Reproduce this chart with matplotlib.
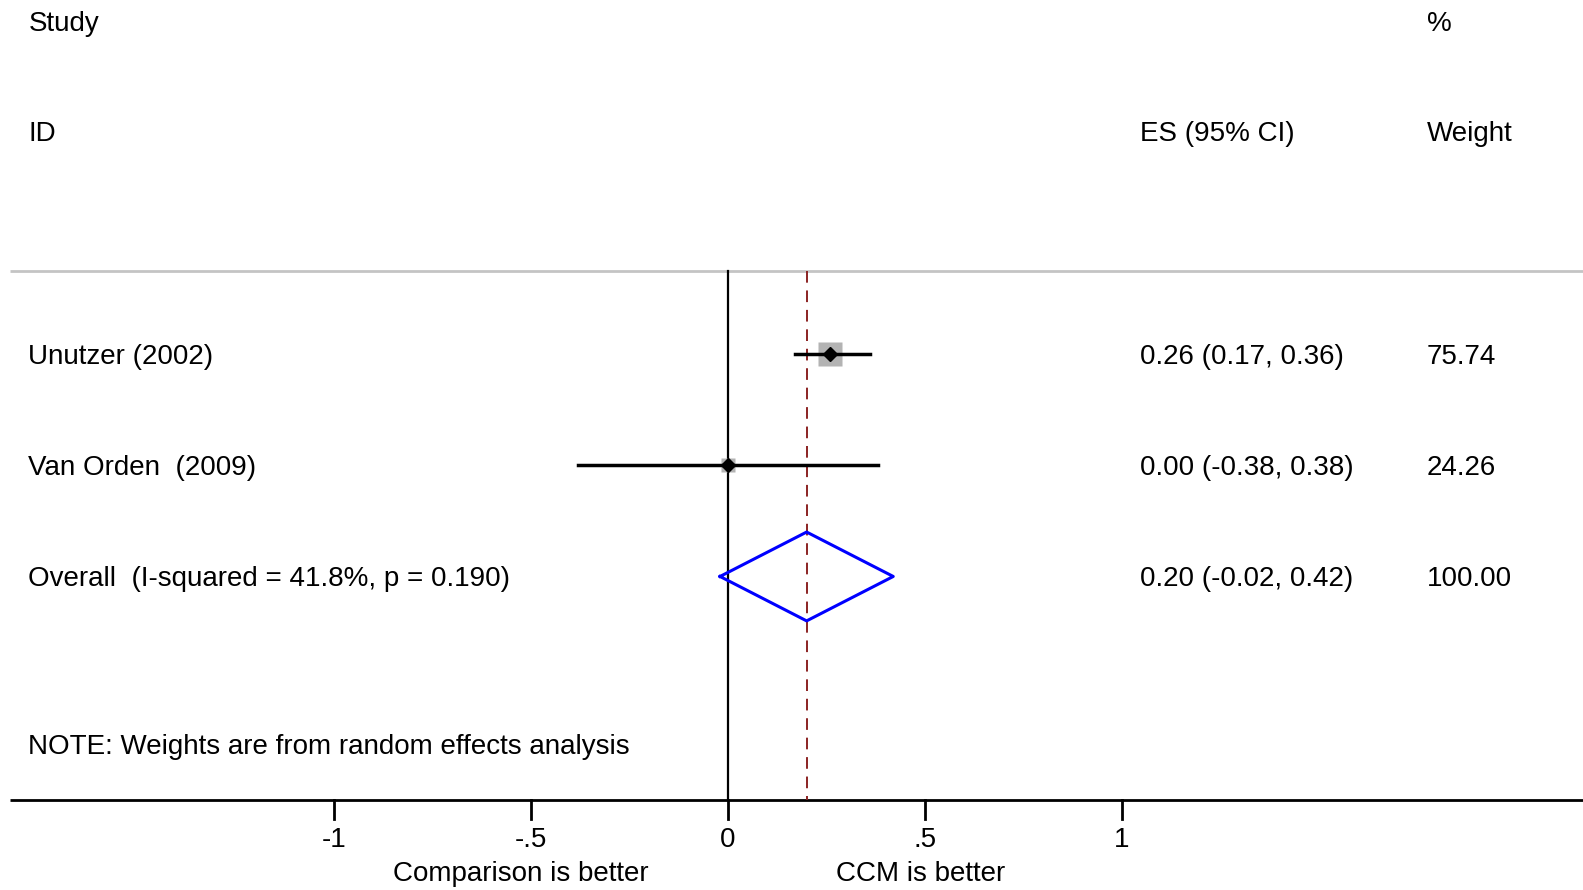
import numpy as np
import matplotlib
matplotlib.use("Agg")
import matplotlib.pyplot as plt

plt.rcParams['font.family'] = ['Liberation Sans', 'DejaVu Sans']

# ---------------data---------------
studies = ['Unutzer (2002)', 'Van Orden  (2009)']
es = [0.26, 0.00]
lo = [0.17, -0.38]
hi = [0.36, 0.38]
weights = [75.74, 24.26]

overall_label = 'Overall  (I-squared = 41.8%, p = 0.190)'
overall_es, overall_lo, overall_hi = 0.20, -0.02, 0.42

xticks = [-1, -0.5, 0, 0.5, 1]
xticklabels = ['-1', '-.5', '0', '.5', '1']

# ---------------layout (pixel rows, full image)---------------
W, H = 1583, 890
s = W / 1568.0
x0_px = 721 * s          # position of 0 on the effect axis
unit_px = 390 * s        # pixels per unit effect
xmin = -x0_px / unit_px
xmax = (W - x0_px) / unit_px

def py(y):               # shown-image row -> full image row
    return y * s

def px2x(x):             # shown-image column -> data x
    return (x * s - x0_px) / unit_px

row_y = [py(351), py(461)]
overall_y = py(571)
top_y, axis_y = py(268), py(792)
fs = 20
toff = py(2.5)           # text sits a little lower than the marks

fig = plt.figure(figsize=(W / 100, H / 100), dpi=100)
ax = fig.add_axes([0, 0, 1, 1])
ax.set_xlim(xmin, xmax)
ax.set_ylim(H, 0)
ax.axis('off')

# headers
ax.text(px2x(28), py(24), 'Study', fontsize=fs, va='center')
ax.text(px2x(28), py(133), 'ID', fontsize=fs, va='center')
ax.text(px2x(1129), py(133), 'ES (95% CI)', fontsize=fs, va='center')
ax.text(px2x(1413), py(24), '%', fontsize=fs, va='center')
ax.text(px2x(1413), py(133), 'Weight', fontsize=fs, va='center')

# gray rule and x axis
ax.plot([px2x(10), xmax], [top_y, top_y], color='#c4c4c4', lw=2, solid_capstyle='butt')
ax.plot([px2x(10), xmax], [axis_y, axis_y], color='black', lw=2, solid_capstyle='butt')

# null line and overall line
ax.plot([0, 0], [top_y, axis_y], color='black', lw=1.6)
ax.plot([overall_es, overall_es], [top_y, axis_y], color='#8b2323', lw=1.4,
        dashes=(6, 4))

# studies
for i in range(len(studies)):
    y = row_y[i]
    ms = 16.6 * np.sqrt(weights[i] / max(weights))
    ax.plot(es[i], y, marker='s', ms=ms, color='#b3b3b3', mec='none', zorder=3)
    ax.plot([lo[i], hi[i]], [y, y], color='black', lw=2.5, zorder=4)
    ax.plot(es[i], y, marker='D', ms=7, color='black', zorder=5)
    ax.text(px2x(28), y + toff, studies[i], fontsize=fs, va='center')
    ax.text(px2x(1129), y + toff, '%.2f (%.2f, %.2f)' % (es[i], lo[i], hi[i]),
            fontsize=fs, va='center')
    ax.text(px2x(1413), y + toff, '%.2f' % weights[i], fontsize=fs, va='center')

# overall diamond
dh = py(44)
ax.plot([overall_lo, overall_es, overall_hi, overall_es, overall_lo],
        [overall_y, overall_y - dh, overall_y, overall_y + dh, overall_y],
        color='#0000ff', lw=2.2, zorder=5)
ax.text(px2x(28), overall_y + toff, overall_label, fontsize=fs, va='center')
ax.text(px2x(1129), overall_y + toff,
        '%.2f (%.2f, %.2f)' % (overall_es, overall_lo, overall_hi),
        fontsize=fs, va='center')
ax.text(px2x(1413), overall_y + toff, '100.00', fontsize=fs, va='center')

ax.text(px2x(28), py(740), 'NOTE: Weights are from random effects analysis',
        fontsize=fs, va='center')

# ticks
for t, lab in zip(xticks, xticklabels):
    ax.plot([t, t], [axis_y, axis_y + py(19)], color='black', lw=2)
    ax.text(t, py(832), lab, fontsize=fs, ha='center', va='center')

ax.text(-0.525, py(866), 'Comparison is better', fontsize=fs, ha='center', va='center')
ax.text(0.49, py(866), 'CCM is better', fontsize=fs, ha='center', va='center')

fig.savefig('out.png', dpi=100)
